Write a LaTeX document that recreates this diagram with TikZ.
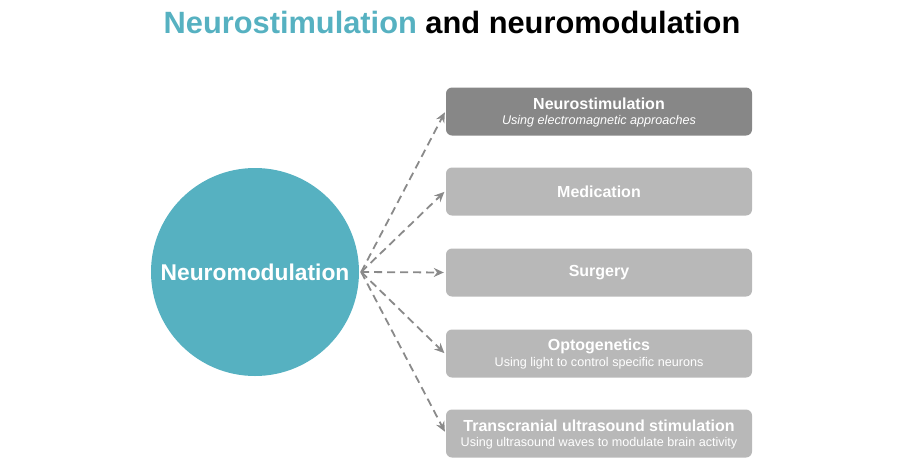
\documentclass[tikz,border=0pt]{standalone}
\usepackage{fontspec}
\setmainfont{Liberation Sans}
\usetikzlibrary{arrows.meta}
\definecolor{neuroteal}{HTML}{56B1C1}
\definecolor{darkbox}{HTML}{878787}
\definecolor{lightbox}{HTML}{B8B8B8}
\definecolor{linkgray}{HTML}{8A8A8A}

\begin{document}
\begin{tikzpicture}[x=1pt,y=-1pt,
  every node/.style={inner sep=0pt, text=white},
  box/.style={rounded corners=6pt, minimum width=306pt, minimum height=48pt, align=center, fill=lightbox},
  head/.style={font=\fontsize{16}{19}\selectfont\bfseries},
  sub/.style={font=\fontsize{12.6}{15}\selectfont},
  link/.style={draw=linkgray, line width=1.8pt, dash pattern=on 8pt off 5pt, -{Stealth[length=10pt, width=9pt]}, shorten >=2pt}]
\useasboundingbox (0,0) rectangle (904,472);
% title
\node[text=black, font=\fontsize{30.8}{36}\selectfont\bfseries] (title) at (452,22)
  {\textcolor{neuroteal}{Neurostimulation} and neuromodulation};
% hub
\node[circle, fill=neuroteal, minimum size=208pt] (modulation) at (255,272) {};
\node[font=\fontsize{22.8}{27}\selectfont\bfseries] at (modulation) {Neuromodulation};
\coordinate (hub) at ([xshift=2pt]modulation.east);
% boxes
\node[box, fill=darkbox] (stim) at (599,111.5) {};
\node[head] at (599,104) {Neurostimulation};
\node[sub, font=\fontsize{12.6}{15}\selectfont\itshape] at (599,121) {Using electromagnetic approaches};
\node[box] (medication) at (599,191.5) {};
\node[head] at (medication) {Medication};
\node[box] (surgery) at (599,272.5) {};
\node[head] at (surgery) {Surgery};
\node[box] (opto) at (599,353.5) {};
\node[head] at (599,346) {Optogenetics};
\node[sub] at (599,363) {Using light to control specific neurons};
\node[box] (ultrasound) at (599,433.5) {};
\node[head] at (599,426) {Transcranial ultrasound stimulation};
\node[sub] at (599,443) {Using ultrasound waves to modulate brain activity};
% links
\draw[link] (hub) -- ([yshift=1pt]stim.west);
\draw[link] (hub) -- ([yshift=1pt]medication.west);
\draw[link] (hub) -- (surgery.west);
\draw[link] (hub) -- ([yshift=-1pt]opto.west);
\draw[link] (hub) -- (ultrasound.west);
\end{tikzpicture}
\end{document}
